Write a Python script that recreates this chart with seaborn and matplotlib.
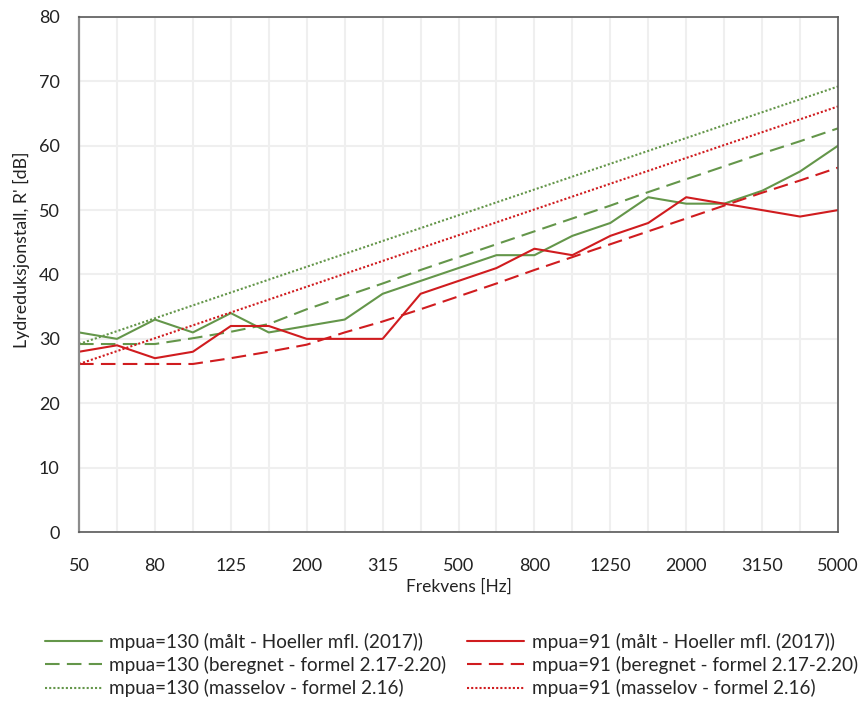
import matplotlib
matplotlib.use("Agg")
import matplotlib.pyplot as plt
import seaborn as sns
import pandas as pd
import numpy as np

freqs = [50, 63, 80, 100, 125, 160, 200, 250, 315, 400, 500, 630, 800, 1000,
         1250, 1600, 2000, 2500, 3150, 4000, 5000]
maalt_130 = [31, 30, 33, 31, 34, 31, 32, 33, 37, 39, 41, 43, 43, 46, 48, 52, 51, 51, 53, 56, 60]
maalt_91 = [28, 29, 27, 28, 32, 32, 30, 30, 30, 37, 39, 41, 44, 43, 46, 48, 52, 51, 50, 49, 50]
beregnet_130 = [29.2, 29.2, 29.2, 30.1, 31.1, 32.3, 34.6, 36.6, 38.6, 40.7, 42.7, 44.7, 46.7,
                48.7, 50.7, 52.8, 54.8, 56.8, 58.8, 60.7, 62.7]
beregnet_91 = [26.1, 26.1, 26.1, 26.1, 27.0, 28.0, 29.1, 31.0, 32.7, 34.6, 36.6, 38.6, 40.7,
               42.7, 44.7, 46.7, 48.7, 50.7, 52.7, 54.6, 56.6]
masselov_130 = [29.2, 31.2, 33.2, 35.2, 37.2, 39.2, 41.2, 43.2, 45.2, 47.2, 49.2, 51.2, 53.2,
                55.2, 57.2, 59.2, 61.2, 63.2, 65.2, 67.2, 69.2]
masselov_91 = [26.1, 28.1, 30.1, 32.1, 34.1, 36.1, 38.1, 40.1, 42.1, 44.1, 46.1, 48.1, 50.1,
               52.1, 54.1, 56.1, 58.1, 60.1, 62.1, 64.1, 66.1]

labels = ["mpua=130 (målt - Hoeller mfl. (2017))",
          "mpua=130 (beregnet - formel 2.17-2.20)",
          "mpua=130 (masselov - formel 2.16)",
          "mpua=91 (målt - Hoeller mfl. (2017))",
          "mpua=91 (beregnet - formel 2.17-2.20)",
          "mpua=91 (masselov - formel 2.16)"]
series = [maalt_130, beregnet_130, masselov_130, maalt_91, beregnet_91, masselov_91]

green = "#64964A"
red = "#D01C1F"
colors = [green, green, green, red, red, red]
dashes = [None, (7, 3.5), (1, 1), None, (7, 3.5), (1, 1)]
lws = [1.5, 1.5, 1.5, 1.5, 1.5, 1.5]

sns.set_style("white")
plt.rcParams['font.family'] = ['Lato', 'DejaVu Sans']

fig = plt.figure(figsize=(8.6, 7.04), dpi=100)
ax = fig.add_axes([0.0919, 0.2443, 0.8825, 0.7316])

x = np.arange(len(freqs))
handles = []
for s, lab, c, d, lw in zip(series, labels, colors, dashes, lws):
    df = pd.DataFrame({"x": x, "y": s})
    sns.lineplot(data=df, x="x", y="y", ax=ax, color=c, linewidth=lw, label=lab)
    line = ax.lines[-1]
    if d is not None:
        line.set_dashes(d)
    handles.append(line)

if ax.get_legend():
    ax.get_legend().remove()

ax.set_xlim(0, len(freqs) - 1)
ax.set_ylim(0, 80)
ax.set_yticks(range(0, 81, 10))
ax.set_xticks(x)
ax.set_xticklabels([str(f) if i % 2 == 0 else "" for i, f in enumerate(freqs)])
ax.tick_params(axis="both", length=0, labelsize=13, colors="#222222")
ax.tick_params(axis="x", pad=19)
ax.tick_params(axis="y", pad=14)
ax.grid(True, color="#EFEFEF", linewidth=1.5)
ax.set_axisbelow(True)
for sp in ax.spines.values():
    sp.set_color("#595959")
    sp.set_linewidth(1.2)
ax.spines["left"].set_color("#8C8C8C")
ax.spines["left"].set_linewidth(1.6)

ax.set_xlabel("Frekvens [Hz]", fontsize=12.5, labelpad=3, color="#222222")
ax.set_ylabel("Lydreduksjonstall, R' [dB]", fontsize=12.8, labelpad=6, color="#222222")
ax.yaxis.label.set_y(0.548)

fig.legend(handles=handles, labels=labels, loc="center", bbox_to_anchor=(0.525, 0.0554),
           ncol=2, frameon=False, fontsize=13.6, handlelength=3.0, columnspacing=1.1,
           labelspacing=0.27, handletextpad=0.42)

fig.savefig("out.png", dpi=100)
